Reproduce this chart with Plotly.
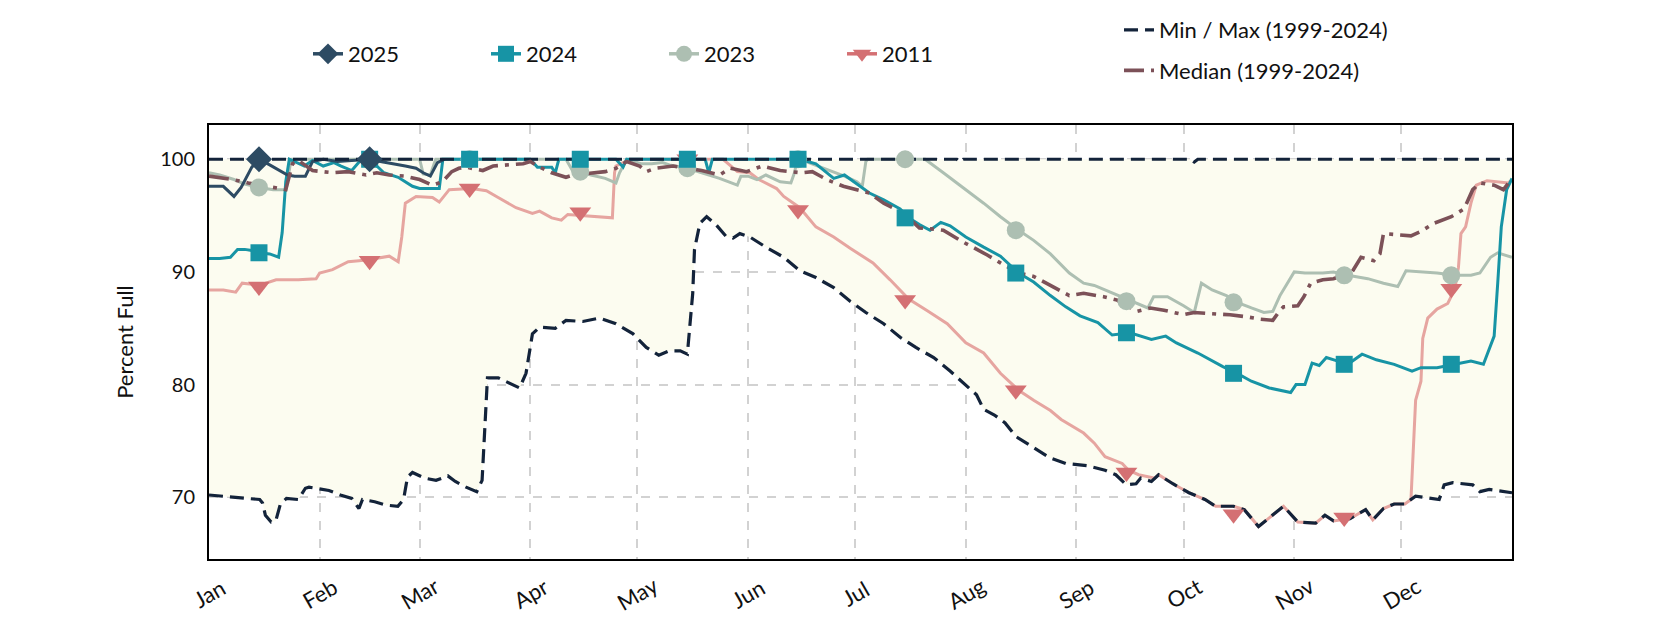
import plotly.graph_objects as go

FONT = "Lato"

# ---------------- data (day of year, percent full) ----------------
month_labels = ["Jan", "Feb", "Mar", "Apr", "May", "Jun", "Jul", "Aug", "Sep", "Oct", "Nov", "Dec"]
month_days = [0, 31, 59, 90, 120, 151, 181, 212, 243, 273, 304, 334]
marker_days = [14, 45, 73, 104, 134, 165, 195, 226, 257, 287, 318, 348]

max_days = [0, 209.5, 210.4, 211.3, 275, 276, 277, 365]
max_vals = [100, 100, 99.75, 100, 100, 99.75, 100, 100]

min_days = [0, 6.7, 14.2, 15, 15.8, 17.4, 18.7, 20, 21.7, 25, 27, 28, 31.4, 33.6, 36.8, 40, 42, 43, 46.4,
            49.7, 52.9, 54.5, 55.6, 57, 60.4, 63.6, 66.9, 69, 72, 75, 76.5, 77, 77.6, 78, 81, 87, 88.8,
            90.6, 92.6, 97, 100, 104.7, 109.4, 114, 118.8, 122.5, 126, 129, 132, 134, 135.5, 136, 137.5,
            139.4, 142, 145, 146.8, 148.7, 151.5, 156, 161, 165.5, 170, 175, 179.6, 184, 189, 193.6, 198,
            203, 207.6, 212, 215, 217, 220, 223, 226, 231, 235.5, 240, 246, 251, 254, 257, 259.7, 261,
            264, 266, 270, 274.5, 279, 282, 287, 290, 294, 301, 305, 310, 312.6, 315, 319.6, 324, 326,
            329, 332, 335, 338, 344.6, 346, 348.4, 354, 356, 358.6, 365]
min_vals = [70.2, 70.0, 69.8, 69.5, 68.4, 67.8, 67.9, 69.4, 69.9, 69.8, 70.8, 70.9, 70.7, 70.6, 70.2, 69.9,
            69.0, 69.8, 69.6, 69.3, 69.2, 69.8, 71.8, 72.2, 71.7, 71.5, 71.9, 71.4, 70.9, 70.5, 71.5, 74.2,
            78.6, 80.6, 80.6, 79.7, 81.0, 84.5, 85.1, 85.0, 85.7, 85.6, 85.9, 85.4, 84.5, 83.3, 82.6, 83.0,
            83.0, 82.7, 88.1, 92.0, 94.3, 94.9, 94.2, 93.1, 93.0, 93.4, 93.1, 92.2, 91.3, 90.1, 89.5, 88.6,
            87.4, 86.4, 85.4, 84.2, 83.3, 82.4, 81.2, 80.0, 79.1, 77.8, 77.3, 76.6, 75.4, 74.4, 73.5, 73.0,
            72.8, 72.4, 72.0, 71.1, 71.2, 71.7, 71.4, 72.0, 71.2, 70.4, 69.8, 69.2, 69.2, 68.9, 67.4, 69.2,
            67.8, 67.7, 68.4, 67.9, 68.1, 68.9, 68.0, 69.0, 69.4, 69.4, 70.1, 69.8, 71.1, 71.3, 71.1, 70.5,
            70.7, 70.4]

med_days = [0, 6.6, 11, 18.7, 21.5, 23.4, 25, 29, 34.6, 39, 44, 47, 50.5, 55, 59, 62.6, 65.4, 68, 70, 72,
            76.7, 79.6, 83, 88, 90, 92.6, 96, 100, 102, 107.6, 111, 114, 117, 120.6, 122.5, 125, 130, 133.7,
            138, 143, 146, 150.6, 155, 160, 163, 166, 169, 173, 177.7, 181.4, 185, 189, 192.7, 196, 199, 203,
            205.7, 210.4, 214, 218, 221.7, 226.8, 231, 235.7, 241, 245, 250.6, 254.4, 260, 263.7, 267.5,
            273, 276, 280.6, 286, 291, 294.6, 298, 300, 301, 305, 306.7, 308.6, 312, 315, 320, 322.7, 326.3,
            328, 329, 333, 336.7, 339.5, 343, 348, 351.6, 354, 356, 360, 362.6, 365]
med_vals = [98.5, 98.2, 97.9, 97.5, 97.3, 99.6, 99.9, 99.0, 98.8, 98.9, 98.6, 98.8, 98.6, 98.5, 98.2, 97.7,
            98.0, 98.9, 99.2, 99.3, 99.0, 99.4, 99.5, 99.6, 99.8, 99.3, 98.8, 98.4, 98.6, 98.8, 98.9, 99.2,
            99.8, 99.4, 98.9, 99.2, 99.4, 99.2, 99.0, 98.6, 99.2, 98.9, 99.4, 99.0, 98.9, 98.8, 98.9, 98.2,
            97.6, 97.3, 97.0, 96.1, 95.5, 94.8, 93.9, 93.8, 93.7, 92.8, 92.2, 91.5, 90.8, 89.9, 89.6, 88.8,
            87.9, 88.1, 87.8, 87.5, 86.5, 86.8, 86.6, 86.2, 86.4, 86.3, 86.2, 86.0, 85.8, 85.7, 86.6, 86.9,
            87.0, 87.8, 89.0, 89.3, 89.4, 89.9, 91.3, 91.0, 91.6, 93.4, 93.3, 93.2, 93.6, 94.3, 94.9, 95.6,
            97.3, 97.9, 97.7, 97.3, 98.3]

y2025_days = [0, 4, 7, 9, 12, 14, 17, 20, 22, 24, 27, 29, 32, 36, 40, 43, 45, 48, 51, 55, 58, 60, 62, 64, 66]
y2025_vals = [97.6, 97.6, 96.7, 97.5, 99.3, 100, 99.5, 99.0, 98.6, 98.5, 98.5, 99.8, 100, 99.8, 99.9, 100,
              100, 99.8, 99.6, 99.4, 99.2, 98.8, 98.5, 99.7, 100]
m2025_vals = [100, 100]

y2024_days = [0, 3, 6, 8, 10, 12, 14, 17, 19.5, 20.5, 21.5, 22.5, 26.7, 29, 32, 35, 37, 40, 42.7, 45, 49, 53,
              57, 59, 64.5, 65.5, 90, 92, 96, 97, 98, 114, 116, 117, 139, 140, 141, 165.5, 170, 175, 178,
              182, 185, 189, 193.6, 196, 199, 202, 205, 207.6, 212, 217, 221.7, 226.8, 231, 235.7, 240, 244,
              249, 253, 258, 264, 268, 271, 277, 284, 288, 292, 297, 303, 304.5, 307, 309, 311, 313, 316,
              319, 323, 327, 332, 337, 339.5, 344, 349, 353.5, 357, 360, 361, 362, 363.5, 365]
y2024_vals = [91.2, 91.2, 91.3, 92.0, 92.0, 91.9, 91.7, 91.6, 91.3, 93.5, 98.0, 100, 99.4, 99.9, 99.4, 99.7,
              99.4, 99.0, 100, 100, 98.8, 98.4, 97.6, 97.4, 97.4, 100, 100, 99.3, 99.3, 98.8, 100, 100, 99.3,
              100, 100, 98.8, 100, 100, 99.6, 98.3, 98.6, 97.7, 97.0, 96.4, 95.6, 94.8, 94.2, 93.7, 94.4,
              94.1, 93.1, 92.2, 91.4, 89.9, 89.1, 87.9, 86.9, 86.1, 85.5, 84.4, 84.6, 84.0, 84.3, 83.7, 82.8,
              81.6, 81.0, 80.3, 79.7, 79.3, 80.0, 80.0, 81.9, 81.7, 82.4, 82.1, 81.8, 82.7, 82.2, 81.8, 81.2,
              81.5, 81.5, 81.8, 82.1, 81.8, 84.3, 89.0, 94.0, 97.3, 98.3]
m2024_vals = [91.7, 100, 100, 100, 100, 100, 94.8, 89.9, 84.6, 81.0, 81.8, 81.8]

y2023_days = [0, 3, 7, 10, 14, 18, 21.6, 23, 59, 60, 62, 63.5, 100, 102, 104, 107, 111, 114, 115, 117, 121,
              124, 127, 129, 134, 138, 143, 148, 149, 151, 153.5, 156, 160, 163, 164, 164.6, 166, 168, 173,
              178, 181.5, 183, 184, 184.5, 196, 200.6, 205.7, 212, 217, 221.7, 226.8, 231, 235.7, 241, 245,
              248, 252.5, 258, 263, 264.6, 268.5, 273, 276, 278, 281, 285, 288, 292, 295.5, 298, 300, 304,
              307, 312, 315, 319, 324.6, 329, 333, 335.3, 340, 344, 349, 353.5, 356, 359, 361, 365]
y2023_vals = [98.8, 98.6, 98.2, 97.8, 97.5, 97.3, 97.3, 100, 100, 98.7, 98.6, 100, 100, 98.9, 98.9, 98.6, 98.3,
              97.9, 98.8, 100, 99.6, 99.6, 99.7, 99.5, 99.2, 98.8, 98.3, 97.7, 98.5, 98.5, 98.2, 98.6, 98.0,
              97.9, 98.8, 99.7, 100, 99.7, 99.1, 98.5, 98.0, 97.6, 99.8, 100, 100, 100, 98.8, 97.3, 96.1,
              94.9, 93.7, 92.8, 91.6, 89.9, 89.0, 88.8, 88.2, 87.4, 86.8, 87.8, 87.8, 87.0, 86.4, 89.0, 88.4,
              87.9, 87.3, 86.8, 86.4, 86.5, 87.9, 90.0, 89.9, 89.9, 90.0, 89.7, 89.4, 89.0, 88.7, 90.1, 90.0,
              89.9, 89.7, 89.7, 89.9, 91.3, 91.7, 91.3]
m2023_vals = [97.5, 100, 100, 98.9, 99.2, 100, 100, 93.7, 87.4, 87.3, 89.7, 89.7]

y2011_days = [0, 4, 7.5, 9.3, 12, 14, 18.8, 25, 30, 31, 34.6, 39, 42, 45, 50.5, 53, 54, 55, 58, 62.6, 64.5,
              67.3, 73.5, 77.7, 81, 86, 90.6, 92.6, 96, 98.7, 100.5, 104.4, 108.6, 111, 113, 113.6, 114, 118,
              144, 148, 151.5, 154, 159, 161, 165.5, 170, 175, 179.6, 186, 190.8, 196, 201, 206.8, 212, 217,
              221.7, 226.8, 231, 235.7, 238.7, 245, 248, 251, 255.8, 257.6, 260.4, 265, 266, 270, 274.5, 279,
              282, 287, 290, 294, 301, 305, 310, 312.6, 315, 319.6, 324, 326, 329, 332, 335, 336.7, 338,
              339.5, 340, 341.4, 344, 347, 349, 350, 350.7, 352, 353.5, 355, 358, 361, 364, 365]
y2011_vals = [88.4, 88.4, 88.2, 89.0, 88.9, 88.8, 89.3, 89.3, 89.4, 89.9, 90.2, 90.9, 91.0, 91.1, 91.4, 90.9,
              93.1, 96.1, 96.7, 96.6, 96.2, 97.3, 97.4, 97.2, 96.6, 95.7, 95.2, 95.4, 94.8, 94.6, 95.1, 95.0,
              94.9, 94.8, 94.8, 98.8, 99.4, 100, 100, 98.9, 98.8, 98.2, 97.4, 96.7, 95.7, 94.0, 93.1, 92.1,
              90.8, 89.3, 87.6, 86.6, 85.4, 83.7, 82.8, 81.0, 79.5, 78.6, 77.7, 76.9, 75.7, 74.8, 73.6, 73.0,
              72.4, 72.0, 71.7, 72.0, 71.2, 70.4, 69.8, 69.2, 69.2, 68.9, 67.4, 69.2, 67.8, 67.7, 68.4, 67.9,
              68.1, 68.9, 68.0, 69.0, 69.4, 69.4, 69.8, 78.6, 80.3, 84.1, 85.9, 86.7, 87.2, 88.5, 90.4, 93.4,
              94.0, 96.1, 97.7, 98.1, 98.0, 97.9, 98.2]
m2011_vals = [88.7, 91.0, 97.4, 95.3, 100, 95.5, 87.5, 79.5, 72.2, 68.5, 68.2, 88.5]

# ---------------- styles ----------------
C2025, C2024, C2023 = "#2d4b63", "#1794a5", "#adbfb2"
C2011, C2011_LINE = "#d47073", "#e6a5a0"
CMED, CMINMAX = "#7c5158", "#13233a"
FILL = "#fcfcf0"
LW = 3

fig = go.Figure()

# band fill between min and max
fig.add_trace(go.Scatter(x=max_days, y=max_vals, mode="lines", line=dict(width=0),
                         showlegend=False, hoverinfo="skip"))
fig.add_trace(go.Scatter(x=min_days, y=min_vals, mode="lines", line=dict(width=0), fill="tonexty",
                         fillcolor=FILL, showlegend=False, hoverinfo="skip"))

# year lines
fig.add_trace(go.Scatter(x=y2011_days, y=y2011_vals, mode="lines", line=dict(color=C2011_LINE, width=LW),
                         showlegend=False))
fig.add_trace(go.Scatter(x=y2023_days, y=y2023_vals, mode="lines", line=dict(color=C2023, width=LW),
                         showlegend=False))
fig.add_trace(go.Scatter(x=y2024_days, y=y2024_vals, mode="lines", line=dict(color=C2024, width=LW),
                         showlegend=False))
fig.add_trace(go.Scatter(x=y2025_days, y=y2025_vals, mode="lines", line=dict(color=C2025, width=LW),
                         showlegend=False))

# min/max and median
fig.add_trace(go.Scatter(x=max_days, y=max_vals, mode="lines", name="Min / Max (1999-2024)",
                         line=dict(color=CMINMAX, width=3.2, dash="14px,7px"),
                         legend="legend2", legendgroup="mm"))
fig.add_trace(go.Scatter(x=med_days, y=med_vals, mode="lines", name="Median (1999-2024)",
                         line=dict(color=CMED, width=3.6, dash="20px,7px,4px,7px"),
                         legend="legend2", legendgroup="med"))
fig.add_trace(go.Scatter(x=min_days, y=min_vals, mode="lines", showlegend=False,
                         line=dict(color=CMINMAX, width=3.2, dash="14px,7px")))

# markers
fig.add_trace(go.Scatter(x=marker_days, y=m2011_vals, mode="markers", showlegend=False,
                         marker=dict(symbol="triangle-down", size=19, color=C2011, line=dict(width=0))))
fig.add_trace(go.Scatter(x=marker_days, y=m2023_vals, mode="markers", showlegend=False,
                         marker=dict(symbol="circle", size=18, color=C2023, line=dict(width=0))))
fig.add_trace(go.Scatter(x=marker_days, y=m2024_vals, mode="markers", showlegend=False,
                         marker=dict(symbol="square", size=17, color=C2024, line=dict(width=0))))
fig.add_trace(go.Scatter(x=marker_days[:2], y=m2025_vals, mode="markers", showlegend=False,
                         marker=dict(symbol="diamond", size=20, color=C2025, line=dict(width=0))))

# legend entries for years
for name, col, sym in [("2025", C2025, "diamond"), ("2024", C2024, "square"),
                       ("2023", C2023, "circle"), ("2011", C2011, "triangle-down")]:
    fig.add_trace(go.Scatter(x=[None], y=[None], mode="lines+markers", name=name,
                             line=dict(color=col, width=3.5),
                             marker=dict(symbol=sym, size=16, color=col),
                             legend="legend"))

# month labels centred under month starts
for d, lab in zip(month_days, month_labels):
    fig.add_annotation(x=d, y=0, xref="x", yref="paper", text=lab, showarrow=False,
                       textangle=-30, yshift=-34, xanchor="center", yanchor="middle",
                       font=dict(family=FONT, size=22, color="#111"))

fig.update_layout(
    width=1680, height=630,
    margin=dict(l=209, r=168, t=125, b=71, autoexpand=False),
    paper_bgcolor="white", plot_bgcolor="white",
    font=dict(family=FONT, size=20, color="#111"),
    legend=dict(orientation="h", x=308 / 1680, y=1 - 33 / 630, xref="container", yref="container",
                xanchor="left", yanchor="top", font=dict(size=22, family=FONT, color="#111"),
                traceorder="normal",
                entrywidth=133, entrywidthmode="pixels", bgcolor="rgba(0,0,0,0)", itemsizing="trace"),
    legend2=dict(orientation="v", x=1119 / 1680, y=1 - 9 / 630, xref="container", yref="container",
                 xanchor="left", yanchor="top", font=dict(size=22, family=FONT, color="#111"),
                 traceorder="grouped", tracegroupgap=9, bgcolor="rgba(0,0,0,0)"),
    showlegend=True,
)
fig.update_xaxes(range=[0, 365], tickvals=month_days, showticklabels=False, ticks="",
                 showgrid=True, gridcolor="#d2d2d2", griddash="dash", gridwidth=1.5,
                 showline=True, linecolor="black", linewidth=2, mirror=True, zeroline=False)
fig.update_yaxes(range=[64.52, 103.04], tickvals=[70, 80, 90, 100], ticks="", ticklabelstandoff=8,
                 tickfont=dict(size=20, family=FONT, color="#111"),
                 title=dict(text="Percent Full", standoff=20, font=dict(size=22, family=FONT, color="#111")),
                 showgrid=True, gridcolor="#d2d2d2", griddash="dash", gridwidth=1.5,
                 showline=True, linecolor="black", linewidth=2, mirror=True, zeroline=False)

fig.write_html("out.html")
